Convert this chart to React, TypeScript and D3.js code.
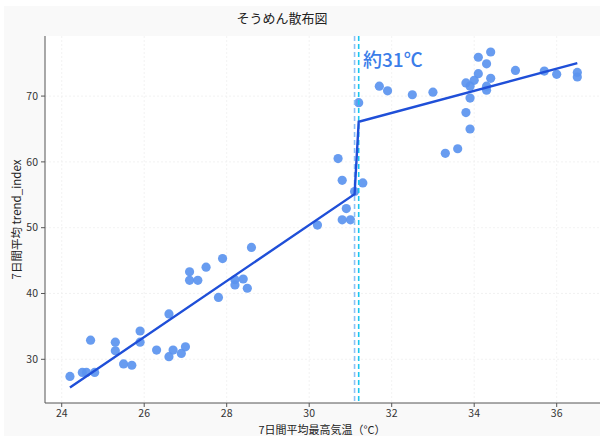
import React from "react";
import * as d3 from "d3";

const temps = [
  24.2, 24.5, 24.6, 24.8, 24.7, 25.3, 25.3, 25.5, 25.7, 25.9, 25.9, 26.3, 26.6, 26.6, 26.7, 26.9, 27.0,
  27.1, 27.1, 27.3, 27.5, 27.9, 27.8, 28.6, 28.2, 28.2, 28.4, 28.5, 30.2,
  30.7, 30.8, 31.1, 31.3, 30.9, 30.8, 31.0,
  31.2, 31.7, 31.9, 32.5, 33.0, 33.3, 33.6,
  34.1, 34.4, 34.3, 34.1, 34.0, 33.8, 33.9, 34.4, 34.3, 34.3, 33.9, 33.8, 33.9,
  35.0, 35.7, 36.0, 36.5, 36.5,
];
const trend = [
  27.4, 28.0, 28.0, 28.0, 32.9, 32.6, 31.3, 29.3, 29.1, 34.3, 32.6, 31.4, 36.9, 30.4, 31.4, 30.9, 31.9,
  43.3, 42.0, 42.0, 44.0, 45.3, 39.4, 47.0, 42.1, 41.3, 42.2, 40.8, 50.4,
  60.5, 57.2, 55.5, 56.8, 52.9, 51.2, 51.2,
  69.0, 71.5, 70.8, 70.2, 70.6, 61.3, 62.0,
  75.9, 76.7, 74.9, 73.4, 72.4, 72.0, 71.5, 72.7, 71.5, 70.9, 69.7, 67.5, 65.0,
  73.9, 73.8, 73.3, 73.6, 72.9,
];
const fitX = [24.2, 31.1, 31.2, 36.5];
const fitY = [25.7, 55.1, 66.1, 75.0];
const breakLines = [31.1, 31.2];
const xTicks = [24, 26, 28, 30, 32, 34, 36];
const yTicks = [30, 40, 50, 60, 70];

const FONT = "'Noto Sans CJK JP', 'Noto Sans', sans-serif";

export default function App() {
  const L = 45, R = 600, T = 36, B = 403;
  const x = d3.scaleLinear().domain([23.595, 37.05]).range([L, R]);
  const y = d3.scaleLinear().domain([23.36, 79.13]).range([B, T]);
  const pts = temps.map((t, i) => ({ t, v: trend[i] }));
  const line = d3
    .line<number>()
    .x((d) => x(d))
    .y((_, i) => y(fitY[i]));
  return (
    <svg
      width={600}
      height={436}
      style={{ position: "absolute", left: 0, top: 0 }}
      fontFamily={FONT}
    >
      <rect x={0} y={0} width={600} height={436} fill="#ffffff" />
      <rect x={4} y={6} width={596} height={430} fill="#f9f9f9" />
      <rect x={L} y={T} width={R - L} height={B - T} fill="#ffffff" />
      <text x={282} y={23} textAnchor="middle" fontSize={13} fill="#222">
        そうめん散布図
      </text>
      {xTicks.map((t) => (
        <line key={"gx" + t} x1={x(t)} x2={x(t)} y1={T} y2={B} stroke="#efefef" strokeWidth={0.8} strokeDasharray="2,2" />
      ))}
      {yTicks.map((t) => (
        <line key={"gy" + t} x1={L} x2={R} y1={y(t)} y2={y(t)} stroke="#efefef" strokeWidth={0.8} strokeDasharray="2,2" />
      ))}
      {pts.map((p, i) => (
        <circle key={i} cx={x(p.t)} cy={y(p.v)} r={4.6} fill="#5b94ef" fillOpacity={0.92} />
      ))}
      <line x1={x(breakLines[0])} x2={x(breakLines[0])} y1={T} y2={B} stroke="#8dc0f6" strokeWidth={1.6} strokeDasharray="5,3" />
      <line x1={x(breakLines[1])} x2={x(breakLines[1])} y1={T} y2={B} stroke="#1ac6ee" strokeWidth={1.6} strokeDasharray="5,3" />
      <path d={line(fitX) || ""} fill="none" stroke="#1f4fd8" strokeWidth={2.4} />
      <text x={363} y={67} fontSize={19} fontWeight={500} fill="#3b7de9">
        約31℃
      </text>
      <line x1={L} x2={L} y1={T} y2={B} stroke="#555" strokeWidth={1} />
      <line x1={L} x2={R} y1={B} y2={B} stroke="#555" strokeWidth={1} />
      {xTicks.map((t) => (
        <g key={"tx" + t}>
          <line x1={x(t)} x2={x(t)} y1={B} y2={B + 4} stroke="#555" />
          <text x={x(t)} y={417} textAnchor="middle" fontSize={10.5} fill="#333">
            {t}
          </text>
        </g>
      ))}
      {yTicks.map((t) => (
        <g key={"ty" + t}>
          <line x1={L - 4} x2={L} y1={y(t)} y2={y(t)} stroke="#555" />
          <text x={L - 7} y={y(t) + 3.8} textAnchor="end" fontSize={10.5} fill="#333">
            {t}
          </text>
        </g>
      ))}
      <text x={322} y={433.5} textAnchor="middle" fontSize={11} fill="#222">
        7日間平均最高気温（°C）
      </text>
      <text
        transform={`translate(21,${(T + B) / 2}) rotate(-90)`}
        textAnchor="middle"
        fontSize={11.5}
        fill="#222"
      >
        7日間平均 trend_index
      </text>
    </svg>
  );
}
